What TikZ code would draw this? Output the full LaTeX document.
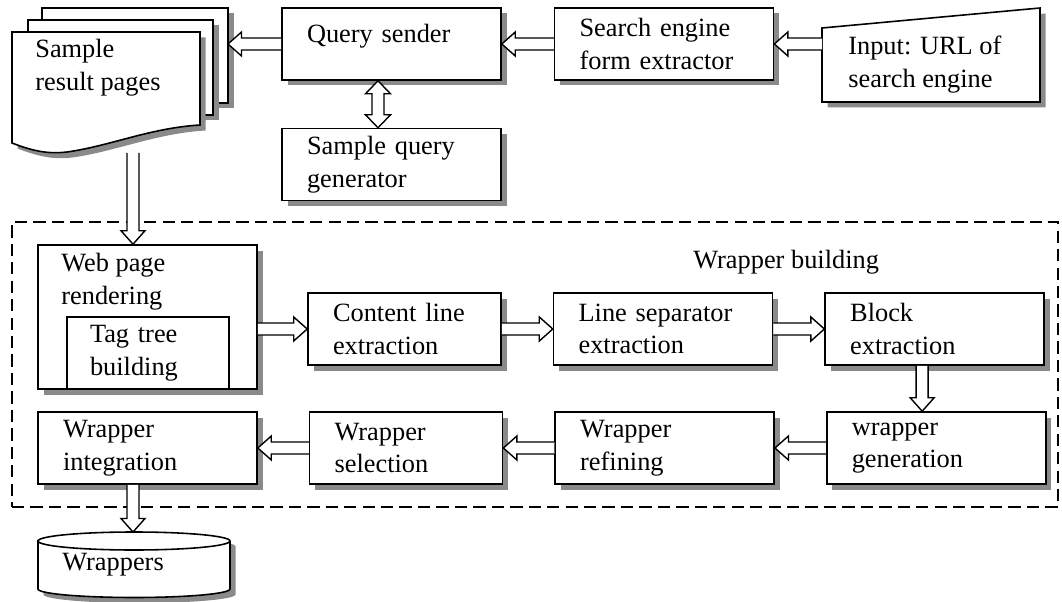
\documentclass[tikz,border=0pt]{standalone}
\usepackage{fontspec}
\setmainfont{Liberation Serif}
\usepackage{tikz}
\usetikzlibrary{positioning,calc,shadows}
\definecolor{shade}{HTML}{8A8A8A}
\newcommand{\boxfont}{\fontsize{15}{18.5}\selectfont}

\begin{document}
\begin{tikzpicture}[
  font=\boxfont,
  boxshadow/.style={drop shadow={shadow xshift=0.11cm, shadow yshift=-0.11cm,
    fill=shade, opacity=1}},
  procbox/.style={draw, line width=0.9pt, fill=white, boxshadow,
    minimum height=1.44cm, inner xsep=0.5cm, inner ysep=0pt, align=left},
  wbox/.style={procbox, text width=3.38cm},
  nbox/.style={procbox, text width=2.86cm},
  plain/.style={line width=0.9pt, fill=white},
  hollow/.style={fill=white, line width=0.8pt, to path={
    let \p1=(\tikztostart), \p2=(\tikztotarget),
        \n1={atan2(\y2-\y1,\x2-\x1)}, \n2={veclen(\x2-\x1,\y2-\y1)} in
    {[shift={(\p1)}, rotate=\n1]
     (0pt,0.12cm) -- ({\n2-0.27cm},0.12cm) -- ({\n2-0.27cm},0.24cm)
     -- ({\n2+0pt},0pt) -- ({\n2-0.27cm},-0.24cm) -- ({\n2-0.27cm},-0.12cm)
     -- (0pt,-0.12cm)}}},
  hollowboth/.style={fill=white, line width=0.8pt, to path={
    let \p1=(\tikztostart), \p2=(\tikztotarget),
        \n1={atan2(\y2-\y1,\x2-\x1)}, \n2={veclen(\x2-\x1,\y2-\y1)} in
    {[shift={(\p1)}, rotate=\n1]
     (0pt,0pt) -- (0.26cm,0.25cm) -- (0.26cm,0.12cm) -- ({\n2-0.26cm},0.12cm)
     -- ({\n2-0.26cm},0.25cm) -- ({\n2+0pt},0pt) -- ({\n2-0.26cm},-0.25cm)
     -- ({\n2-0.26cm},-0.12cm) -- (0.26cm,-0.12cm) -- (0.26cm,-0.25cm) -- cycle}}},
  wrapline/.style={draw, line width=1.5pt, dash pattern=on 7pt off 3.5pt}
]
\useasboundingbox (0,0) rectangle (21.24,-12.04);

% wrapper building frame
\node[wrapline, minimum width=20.92cm, minimum height=5.70cm, inner sep=0pt]
  (wrapbox) at (10.70,-7.29) {};
\node[anchor=west, inner sep=0pt] (wbtitle) at (13.86,-5.24) {Wrapper building};

% sample result pages
\draw[plain, boxshadow] (0.84,-0.16) rectangle (4.56,-2.06);
\draw[plain, boxshadow] (0.56,-0.40) rectangle (4.26,-2.30);
\draw[plain, boxshadow] (0.24,-0.64) -- (4.00,-0.64) -- (4.00,-2.50)
  .. controls (3.00,-2.56) and (2.20,-2.92) .. (1.34,-3.04)
  .. controls (1.00,-3.08) and (0.70,-3.04) .. (0.24,-2.86) -- cycle;
\node[anchor=north west, inner sep=0pt, align=left] (pages) at (0.70,-0.78)
  {Sample\\result pages};
\coordinate (pagesE) at (4.56,-0.88);
\coordinate (pagesS) at (2.66,-3.06);

% search engine input
\draw[plain, boxshadow] (16.44,-0.56) -- (20.80,-0.16) -- (20.80,-2.04)
  -- (16.44,-2.04) -- cycle;
\node[anchor=north west, inner sep=0pt, align=left] (input) at (16.96,-0.72)
  {Input: URL of\\search engine};
\coordinate (inW) at (16.44,-0.88);

% query side
\node[wbox] (qsend) at (7.83,-0.88) {Query sender\\[-6pt]\mbox{}};
\node[wbox, right=1.04cm of qsend] (sefe) {Search engine\\form extractor};
\node[wbox, below=0.94cm of qsend] (qgen) {Sample query\\generator};

% wrapper building steps
\node[draw, line width=0.9pt, fill=white, boxshadow, minimum width=4.38cm,
  minimum height=2.88cm, inner sep=0pt] (render) at (2.95,-6.34) {};
\node[anchor=north west, inner sep=0pt, align=left] (renderlbl) at (1.22,-5.06)
  {Web page\\rendering};
\node[draw, line width=0.9pt, anchor=south west, minimum height=1.44cm,
  inner xsep=0.46cm, inner ysep=0pt, text width=2.32cm, align=left]
  (tagtree) at ([xshift=0.58cm]render.south west) {Tag tree\\building};
\node[nbox] (content) at (8.09,-6.58) {Content line\\extraction};
\node[wbox, right=1.02cm of content] (linesep) {Line separator\\extraction};
\node[wbox, right=1.02cm of linesep] (block) {Block\\extraction};
\node[wbox] (integ) at (2.95,-8.96) {Wrapper\\integration};
\node[nbox, right=1.02cm of integ] (select) {Wrapper\\selection};
\node[wbox, right=1.02cm of select] (refine) {Wrapper\\refining};
\node[wbox, right=1.02cm of refine] (wgen) {wrapper\\generation};

% wrappers store
\draw[plain, boxshadow] (0.76,-10.82) -- (0.76,-11.78)
  arc[start angle=180, end angle=360, x radius=1.92cm, y radius=0.17cm]
  -- (4.60,-10.82)
  arc[start angle=0, end angle=180, x radius=1.92cm, y radius=0.18cm] -- cycle;
\draw[line width=0.9pt] (0.76,-10.82)
  arc[start angle=180, end angle=360, x radius=1.92cm, y radius=0.18cm];
\node[anchor=west, inner sep=0pt] (wrappers) at (1.24,-11.30) {Wrappers};
\coordinate (dbtop) at (2.66,-10.64);

\draw[hollow] (inW) to (sefe.east);
\draw[hollow] (sefe.west) to (qsend.east);
\draw[hollow] (qsend.west) to (pagesE);
\draw[hollowboth] ([xshift=-0.27cm]qsend.south) to ([xshift=-0.27cm]qgen.north);
\draw[hollow] (pagesS) to (pagesS |- render.north);
\draw[hollow] (render.east |- content.west) to (content.west);
\draw[hollow] (content.east) to (linesep.west);
\draw[hollow] (linesep.east) to (block.west);
\draw[hollow] ([xshift=-0.25cm]block.south) to ([xshift=-0.25cm]block.south |- wgen.north);
\draw[hollow] (wgen.west) to (refine.east);
\draw[hollow] (refine.west) to (select.east);
\draw[hollow] (select.west) to (integ.east);
\draw[hollow] (dbtop |- integ.south) to (dbtop);
\end{tikzpicture}
\end{document}
